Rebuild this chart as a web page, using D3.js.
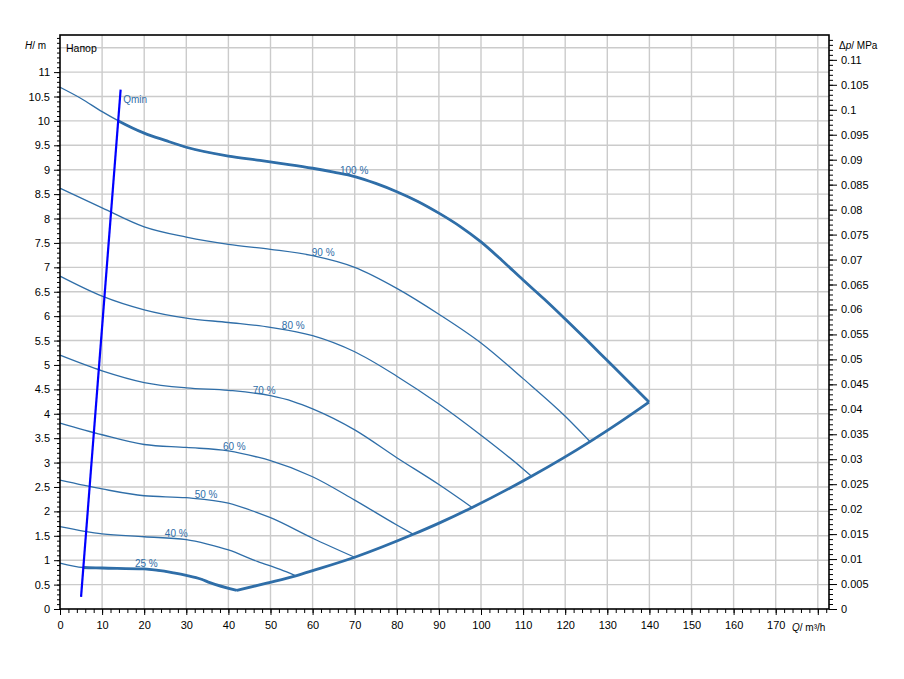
<!DOCTYPE html>
<html><head><meta charset="utf-8">
<script src="https://cdn.jsdelivr.net/npm/d3@7"></script>
<style>
body{margin:0;background:#fff}
text{font-family:"Liberation Sans",Arial,sans-serif}
</style>
</head><body>
<svg id="c" width="904" height="679"></svg>
<script>
// ---- data (Q in m³/h, H in m) ----
const curve100 = [[0,10.69],[5,10.46],[10,10.19],[13.9,10.0],[20,9.75],[25,9.6],[30,9.46],[40,9.28],[47.5,9.19],[52.3,9.13],[60,9.03],[65,8.95],[70,8.86],[75,8.72],[80,8.55],[85,8.35],[90,8.11],[95,7.84],[100,7.52],[105,7.14],[110,6.74],[115,6.35],[120,5.94],[125,5.52],[130,5.09],[135,4.66],[139.9,4.24]];
const curve90 = [[0,8.62],[10,8.22],[20,7.83],[30,7.62],[40,7.47],[50,7.37],[60,7.24],[70,7.0],[80,6.57],[90,6.04],[100,5.45],[110,4.72],[120,3.95],[125.9,3.43]];
const curve80 = [[0,6.82],[10,6.41],[20,6.13],[30,5.96],[40,5.87],[50,5.77],[60,5.6],[70,5.27],[80,4.77],[90,4.2],[100,3.56],[110,2.87],[112,2.72]];
const curve70 = [[0,5.2],[10,4.88],[20,4.64],[30,4.53],[40,4.48],[50,4.37],[55.4,4.25],[60,4.1],[70,3.67],[80,3.1],[90,2.55],[97.9,2.08]];
const curve60 = [[0,3.81],[10,3.57],[20,3.37],[30,3.31],[40,3.24],[47,3.11],[50,3.04],[60,2.71],[70,2.23],[80,1.72],[83.9,1.53]];
const curve50 = [[0,2.64],[10,2.46],[20,2.32],[30,2.28],[40,2.17],[47,1.97],[50,1.87],[60,1.45],[70,1.06]];
const curve40 = [[0,1.69],[10,1.54],[20,1.48],[30,1.42],[35,1.33],[40,1.21],[47,0.97],[52.3,0.81],[56,0.68]];
const curve25 = [[0,0.94],[5.5,0.85],[10,0.84],[20,0.82],[27,0.74],[30,0.69],[33.6,0.61],[35.6,0.54],[42,0.38]];
const boundary = [[42,0.38],[49.1,0.53],[56,0.68],[60.2,0.79],[70,1.06],[83.9,1.53],[90.3,1.77],[97.9,2.08],[112,2.72],[125.9,3.43],[133,3.83],[139.9,4.24]];
const qminLine = [[5.0,0.25],[14.4,10.64]];

const speedLabels = ["100 %","90 %","80 %","70 %","60 %","50 %","40 %","25 %"];
const labelQ = [66.5,59.8,52.7,45.8,38.7,32.0,24.9,17.8];
const labelH = [8.98,7.30,5.81,4.47,3.32,2.34,1.54,0.94];

const qTickLabels = d3.range(0,171,10);
const hTickLabels = d3.range(0,11.01,0.5);
const pTickLabels = d3.range(0,0.11001,0.005);
const mpaPerMetre = 0.009777;

// ---- layout ----
const svg = d3.select("#c");
const L=60, R=829, T=35, B=609;
const qMax=182.66, hMax=11.76;
const x = d3.scaleLinear([0,qMax],[L,R]);
const y = d3.scaleLinear([0,hMax],[B,T]);
const p = d3.scaleLinear([0,hMax*mpaPerMetre],[B,T]);
const blue="#2f6ea8";

svg.append("rect").attr("width",904).attr("height",679).attr("fill","#fff");

// grid
const g = svg.append("g").attr("stroke","#cbcbcb").attr("stroke-width",1.4);
d3.range(10,181,10).forEach(v=>g.append("line").attr("x1",x(v)).attr("x2",x(v)).attr("y1",T).attr("y2",B));
d3.range(0.5,11.51,0.5).forEach(v=>g.append("line").attr("x1",L).attr("x2",R).attr("y1",y(v)).attr("y2",y(v)));

// clip: right of Qmin line
const [a,b]=qminLine;
const slope=(b[0]-a[0])/(b[1]-a[1]);
const qAt=h=>a[0]+(h-a[1])*slope;
svg.append("clipPath").attr("id","rightOfQmin").append("polygon")
  .attr("points",[[x(qAt(-2)),y(-2)],[x(qAt(14)),y(14)],[904,y(14)],[904,y(-2)]].map(d=>d.join(",")).join(" "));

const line = d3.line().x(d=>x(d[0])).y(d=>y(d[1])).curve(d3.curveMonotoneX);
const curves=[curve100,curve90,curve80,curve70,curve60,curve50,curve40,curve25];
const cg=svg.append("g").attr("fill","none").attr("stroke",blue).attr("stroke-linejoin","round");
curves.forEach(c=>cg.append("path").attr("d",line(c)).attr("stroke-width",1.3));
const tg=cg.append("g").attr("clip-path","url(#rightOfQmin)").attr("stroke-width",2.8);
[curve100,curve25].forEach(c=>tg.append("path").attr("d",line(c)));
cg.append("path").attr("d",line(boundary)).attr("stroke-width",2.8);

// Qmin
svg.append("line").attr("x1",x(a[0])).attr("y1",y(a[1])).attr("x2",x(b[0])).attr("y2",y(b[1]))
  .attr("stroke","#0000ff").attr("stroke-width",2.2);
svg.append("text").attr("x",x(15.0)).attr("y",y(10.43)).attr("dy","0.35em")
  .attr("fill",blue).attr("font-size",10).text("Qmin");

// curve labels
speedLabels.forEach((t,i)=>svg.append("text").attr("x",x(labelQ[i])).attr("y",y(labelH[i])).attr("dy","0.35em")
  .attr("fill",blue).attr("font-size",10).text(t));

// axes
function styleAxis(sel){sel.select(".domain").remove();sel.selectAll(".tick line").attr("stroke","#000");sel.selectAll("text").attr("font-size",11).attr("fill","#000").attr("font-family","'Liberation Sans',Arial,sans-serif");}
const fmt=d=>String(+d.toFixed(3));
svg.append("g").attr("transform",`translate(${L},0)`).call(d3.axisLeft(y).tickValues(d3.range(0,11.75,0.1)).tickSize(3).tickFormat("")).call(styleAxis);
svg.append("g").attr("transform",`translate(${L},0)`).call(d3.axisLeft(y).tickValues(hTickLabels).tickSize(6).tickPadding(4).tickFormat(fmt)).call(styleAxis);
svg.append("g").attr("transform",`translate(0,${B})`).call(d3.axisBottom(x).tickValues(d3.range(0,182.5,2)).tickSize(4).tickFormat("")).call(styleAxis);
svg.append("g").attr("transform",`translate(0,${B})`).call(d3.axisBottom(x).tickValues(qTickLabels.concat([180])).tickSize(6).tickPadding(6).tickFormat(d=>d<=170?fmt(d):"")).call(styleAxis);
svg.append("g").attr("transform",`translate(${R},0)`).call(d3.axisRight(p).tickValues(d3.range(0,0.1145,0.001)).tickSize(4).tickFormat("")).call(styleAxis);
svg.append("g").attr("transform",`translate(${R},0)`).call(d3.axisRight(p).tickValues(pTickLabels).tickSize(8).tickPadding(4).tickFormat(fmt)).call(styleAxis);

// frame
svg.append("rect").attr("x",L).attr("y",T).attr("width",R-L).attr("height",B-T).attr("fill","none").attr("stroke","#000").attr("stroke-width",1.6);

// titles
const t1=svg.append("text").attr("x",25).attr("y",45).attr("dy","0.35em").attr("font-size",10);
t1.append("tspan").attr("font-style","italic").text("H");t1.append("tspan").text("/ m");
svg.append("text").attr("x",66).attr("y",48).attr("dy","0.35em").attr("font-size",10.5).text("Напор");
const t2=svg.append("text").attr("x",839).attr("y",45).attr("dy","0.35em").attr("font-size",10);
t2.append("tspan").text("Δ");t2.append("tspan").attr("font-style","italic").text("p");t2.append("tspan").text("/ MPa");
const t3=svg.append("text").attr("x",792).attr("y",627).attr("dy","0.35em").attr("font-size",10);
t3.append("tspan").attr("font-style","italic").text("Q");t3.append("tspan").text("/ m³/h");
</script>
</body></html>
